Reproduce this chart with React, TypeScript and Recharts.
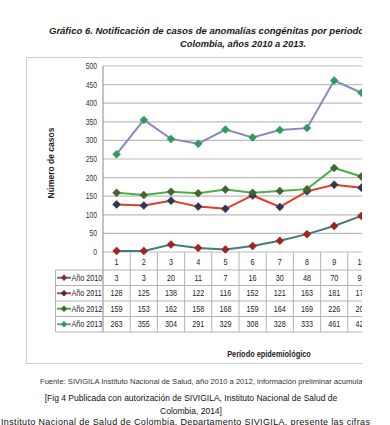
import React from "react";
import { LineChart, Line, XAxis, YAxis, CartesianGrid } from "recharts";

const periods = ["1", "2", "3", "4", "5", "6", "7", "8", "9", "10"];
const y2010 = [3, 3, 20, 11, 7, 16, 30, 48, 70, 97];
const y2011 = [128, 125, 138, 122, 116, 152, 121, 163, 181, 173];
const y2012 = [159, 153, 162, 158, 168, 159, 164, 169, 226, 203];
const y2013 = [263, 355, 304, 291, 329, 308, 328, 333, 461, 428];
const yTicks = [0, 50, 100, 150, 200, 250, 300, 350, 400, 450, 500];

const seriesNames = ["Año 2010", "Año 2011", "Año 2012", "Año 2013"];
const seriesValues = [y2010, y2011, y2012, y2013];
const lineColors = ["#3e7f7c", "#e63a22", "#4cb048", "#8888c2"];
const markerColors = ["#a3231f", "#2a3856", "#46652c", "#2e9c5c"];
const keys = ["a2010", "a2011", "a2012", "a2013"];

const data = periods.map((p, i) => ({
  period: p,
  a2010: y2010[i],
  a2011: y2011[i],
  a2012: y2012[i],
  a2013: y2013[i],
}));

const PLOT_LEFT = 103;
const CAT_W = 27.2;
const PLOT_TOP = 66;
const PLOT_BOTTOM = 252;
const ARIAL = "'Liberation Sans', Arial, sans-serif";
const SQ = 0.8;

const NText = (props: {
  x: number;
  y: number;
  anchor?: "start" | "middle" | "end";
  size?: number;
  bold?: boolean;
  fill?: string;
  children: React.ReactNode;
}) => (
  <text
    transform={`translate(${props.x},${props.y}) scale(${SQ},1)`}
    textAnchor={props.anchor || "start"}
    fontSize={props.size || 8.5}
    fontFamily={ARIAL}
    fontWeight={props.bold ? "bold" : "normal"}
    fill={props.fill || "#222"}
  >
    {props.children}
  </text>
);

const diamond = (color: string) => (props: any) => {
  const { cx, cy, index } = props;
  if (cx == null || cy == null) return <g key={`d${index}`} />;
  const r = 4;
  return (
    <path
      key={`d${index}`}
      d={`M${cx},${cy - r} L${cx + r},${cy} L${cx},${cy + r} L${cx - r},${cy} Z`}
      fill={color}
      stroke={color}
      strokeWidth={0.5}
    />
  );
};

const YTick = (props: any) => {
  const { x, y, payload } = props;
  return (
    <NText x={x} y={y + 3} anchor="end" size={8.5} fill="#333">
      {payload.value}
    </NText>
  );
};

const HEADER_BOTTOM = 270;
const ROW_H = 15.5;

function Table() {
  const rowsTop = HEADER_BOTTOM;
  const tableBottom = rowsTop + ROW_H * 4;
  const lineColor = "#b4b4b4";
  const right = PLOT_LEFT + CAT_W * periods.length;
  return (
    <svg width={400} height={345} style={{ position: "absolute", left: 0, top: 0 }}>
      {periods.map((_, i) => (
        <line
          key={`v${i}`}
          x1={PLOT_LEFT + CAT_W * (i + 1)}
          x2={PLOT_LEFT + CAT_W * (i + 1)}
          y1={PLOT_BOTTOM}
          y2={tableBottom}
          stroke={lineColor}
          strokeWidth={1}
        />
      ))}
      <line x1={PLOT_LEFT} x2={PLOT_LEFT} y1={PLOT_TOP} y2={tableBottom} stroke="#9a9a9a" strokeWidth={1.2} />
      <line x1={55.5} x2={55.5} y1={rowsTop} y2={tableBottom} stroke={lineColor} strokeWidth={1} />
      {[0, 1, 2, 3, 4].map((r) => (
        <line
          key={`h${r}`}
          x1={55.5}
          x2={right}
          y1={rowsTop + ROW_H * r}
          y2={rowsTop + ROW_H * r}
          stroke={lineColor}
          strokeWidth={1}
        />
      ))}
      {periods.map((p, i) => (
        <NText key={`p${i}`} x={PLOT_LEFT + CAT_W * (i + 0.5)} y={(PLOT_BOTTOM + HEADER_BOTTOM) / 2 + 3.5} anchor="middle" size={9}>
          {p}
        </NText>
      ))}
      {seriesValues.map((vals, r) => {
        const cy = rowsTop + ROW_H * (r + 0.5);
        return (
          <g key={`r${r}`}>
            <line x1={57} x2={71} y1={cy} y2={cy} stroke={lineColors[r]} strokeWidth={2} />
            <path d={`M64,${cy - 3.2} L67.2,${cy} L64,${cy + 3.2} L60.8,${cy} Z`} fill={markerColors[r]} />
            <NText x={71.5} y={cy + 3.2} size={9}>
              {seriesNames[r]}
            </NText>
            {vals.map((v, i) => (
              <NText key={`c${i}`} x={PLOT_LEFT + CAT_W * (i + 0.5)} y={cy + 3.2} anchor="middle" size={9}>
                {v}
              </NText>
            ))}
          </g>
        );
      })}
    </svg>
  );
}

export default function App() {
  return (
    <div
      style={{
        position: "absolute",
        left: 0,
        top: 0,
        width: 390,
        height: 425,
        overflow: "hidden",
        background: "#fff",
        fontFamily: ARIAL,
      }}
    >
      <div
        style={{
          position: "absolute",
          left: 0,
          top: 0,
          width: 362,
          height: 372,
          overflow: "hidden",
        }}
      >
        <div
          style={{
            position: "absolute",
            left: 49,
            top: 25,
            whiteSpace: "nowrap",
            fontSize: 9.5,
            fontWeight: "bold",
            fontStyle: "italic",
            color: "#1a1a1a",
          }}
        >
          Gráfico 6. Notificación de casos de anomalías congénitas por periodo epidemiológico,
        </div>
        <div
          style={{
            position: "absolute",
            left: 180,
            top: 39,
            whiteSpace: "nowrap",
            fontSize: 9.3,
            fontWeight: "bold",
            fontStyle: "italic",
            color: "#1a1a1a",
          }}
        >
          Colombia, años 2010 a 2013.
        </div>
        <div
          style={{
            position: "absolute",
            left: 26,
            top: 57,
            width: 420,
            height: 305,
            border: "1.5px solid #cccccc",
          }}
        />
        <div
          style={{
            position: "absolute",
            left: 51,
            top: 163,
            transform: "translate(-50%, -50%) rotate(-90deg)",
            whiteSpace: "nowrap",
            fontSize: 8.5,
            fontWeight: "bold",
            color: "#222",
          }}
        >
          Número de casos
        </div>
        <div style={{ position: "absolute", left: 0, top: 0 }}>
          <LineChart
            width={PLOT_LEFT + CAT_W * periods.length + 5}
            height={PLOT_BOTTOM + 10}
            data={data}
            margin={{ top: PLOT_TOP, right: 5, bottom: 10, left: PLOT_LEFT - 40 }}
          >
            <CartesianGrid vertical={false} stroke="#bcbcbc" strokeWidth={1.2} />
            <XAxis dataKey="period" hide padding={{ left: CAT_W / 2, right: CAT_W / 2 }} />
            <YAxis
              width={40}
              domain={[0, 500]}
              ticks={yTicks}
              interval={0}
              tickLine={false}
              axisLine={false}
              tickSize={4}
              tickMargin={2}
              tick={<YTick />}
            />
            {keys.map((k, i) => (
              <Line
                key={k}
                type="linear"
                dataKey={k}
                stroke={lineColors[i]}
                strokeWidth={2}
                dot={diamond(markerColors[i])}
                activeDot={false}
                isAnimationActive={false}
              />
            ))}
          </LineChart>
        </div>
        <Table />
        <div
          style={{
            position: "absolute",
            left: 269,
            top: 354,
            transform: "translate(-50%, -50%) scaleX(0.82)",
            whiteSpace: "nowrap",
            fontSize: 9,
            fontWeight: "bold",
            color: "#222",
          }}
        >
          Período epidemiológico
        </div>
      </div>
      <div
        style={{
          position: "absolute",
          left: 40,
          top: 377,
          width: 322,
          overflow: "hidden",
          whiteSpace: "nowrap",
          fontSize: 7.6,
          color: "#333",
        }}
      >
        Fuente: SIVIGILA Instituto Nacional de Salud, año 2010 a 2012, información preliminar acumulada
      </div>
      <div
        style={{
          position: "absolute",
          left: 0,
          top: 392,
          width: 382,
          textAlign: "center",
          fontSize: 8.5,
          lineHeight: "12.5px",
          color: "#111",
        }}
      >
        [Fig 4 Publicada con autorización de SIVIGILA, Instituto Nacional de Salud de
        <br />
        Colombia, 2014]
      </div>
      <div
        style={{
          position: "absolute",
          left: 1,
          top: 417,
          whiteSpace: "nowrap",
          fontSize: 9,
          letterSpacing: 0.35,
          color: "#111",
        }}
      >
        Instituto Nacional de Salud de Colombia. Departamento SIVIGILA, presente las cifras
      </div>
    </div>
  );
}
